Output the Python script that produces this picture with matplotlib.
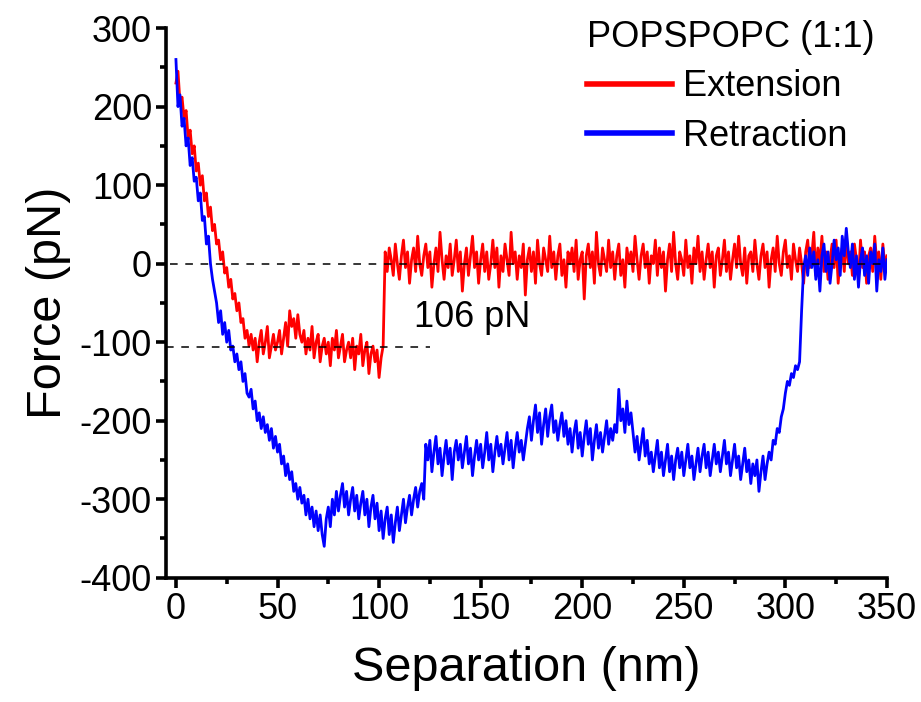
import numpy as np
import matplotlib
matplotlib.use('Agg')
import matplotlib.pyplot as plt
from matplotlib.ticker import MultipleLocator

plt.rcParams['font.family'] = ['Liberation Sans', 'DejaVu Sans']
plt.rcParams['axes.unicode_minus'] = False

# Force curve, one point per nm (0 .. 350 nm)
extension_force = [
    # 0 - 37: contact region
    230, 245, 205, 212, 185, 195, 160, 170, 140, 150,
    118, 128, 100, 112, 80, 90, 60, 72, 42, 50,
    25, 30, 5, 15, -12, -5, -30, -20, -45, -38,
    -60, -50, -75, -70, -95, -85, -105, -90,
    # 38 - 102: adhesion plateau
    -110, -95, -125, -100, -85, -115, -100, -80, -120, -105, -90, -110,
    -100, -85, -115, -95, -75, -105, -60, -80, -70, -95, -65, -90,
    -100, -85, -115, -95, -110, -80, -120, -100, -90, -125, -105, -95,
    -115, -100, -130, -95, -110, -85, -120, -105, -90, -125, -110, -100,
    -120, -95, -135, -105, -115, -90, -130, -110, -100, -140, -115, -105,
    -125, -110, -145, -120, -105,
    # 103 - 350: free baseline
    15, -10, 20, 5, -15, 25, 0, -20, 10, 30,
    -5, 15, -25, 5, 20, -10, 35, 0, -15, 10,
    25, -5, 15, -30, 0, 20, -10, 40, 5, -20,
    10, -5, 25, -15, 5, 30, -10, 15, -35, 0,
    20, -15, 10, 35, -5, 15, -25, 5, 25, -10,
    15, -20, 0, 30, -5, 20, -30, 10, -10, 25,
    5, -15, 40, 0, 15, -20, 10, -5, 25, -40,
    5, 20, -10, 15, -25, 30, 0, -15, 20, 5,
    -10, 35, -5, 15, -20, 10, 25, -15, 5, -30,
    15, 0, 20, -10, 30, -20, 5, 15, -45, 10,
    25, -5, 15, -25, 40, 0, -15, 20, 5, -10,
    30, -5, 15, -20, 10, 25, -15, 5, -30, 20,
    0, 15, -10, 35, 5, -20, 10, 25, -5, 15,
    -25, 10, 0, 30, -15, 20, -5, 15, -35, 5,
    25, -10, 40, 0, -20, 15, 5, -15, 30, -5,
    10, -25, 20, 0, 35, -10, 15, -20, 5, 25,
    -5, 15, -30, 10, 20, -15, 5, 30, -10, 15,
    -20, 5, 25, -5, 35, 0, -15, 20, -25, 10,
    15, -10, 30, 0, -20, 10, 25, -5, 15, -30,
    5, 20, -10, 35, 0, -15, 15, 30, -5, 10,
    -20, 25, 5, -10, 20, 0, -25, 15, 30, -5,
    10, 40, -15, 20, 0, 35, -10, 15, -20, 5,
    25, -5, 30, -25, 10, 20, -10, 35, 0, 15,
    -15, 25, 5, -20, 30, -5, 15, -25, 10, 20,
    -10, 35, 0, 15, -20, 25, -5, 10,
]

retraction_force = [
    # 0 - 37
    260, 200, 215, 175, 185, 150, 160, 125, 135, 105,
    110, 80, 90, 55, 60, 25, 35, 0, -20, -35,
    -50, -75, -60, -90, -75, -100, -85, -110, -105, -125,
    -115, -135, -125, -150, -140, -165, -170, -160,
    # 38 - 74
    -185, -175, -200, -190, -210, -195, -215, -205, -225, -210,
    -235, -220, -240, -230, -255, -245, -270, -255, -275, -265,
    -290, -280, -300, -285, -305, -295, -320, -300, -325, -310,
    -335, -315, -340, -320, -345, -360, -325,
    # 75 - 122
    -310, -335, -300, -320, -290, -315, -295, -280, -310, -290,
    -320, -300, -285, -315, -295, -325, -305, -290, -320, -300,
    -335, -310, -295, -325, -305, -340, -315, -350, -325, -310,
    -345, -320, -355, -330, -310, -340, -320, -300, -330, -310,
    -295, -320, -300, -285, -310, -290, -280, -300,
    # 123 - 173
    -230, -250, -225, -265, -240, -220, -255, -235, -270, -245,
    -225, -255, -235, -275, -240, -225, -250, -230, -260, -240,
    -220, -255, -235, -270, -245, -225, -250, -230, -260, -240,
    -215, -250, -230, -265, -240, -220, -245, -230, -255, -235,
    -215, -250, -225, -260, -235, -215, -240, -225, -250, -230,
    -210,
    # 174 - 192
    -195, -225, -200, -180, -215, -190, -230, -205, -185, -220,
    -195, -180, -215, -200, -225, -205, -190, -220, -200,
    # 193 - 217
    -230, -210, -240, -215, -200, -235, -215, -245, -220, -200,
    -230, -210, -250, -225, -205, -235, -215, -240, -220, -200,
    -230, -210, -225, -205, -215,
    # 218 - 233
    -160, -200, -185, -215, -175, -205, -190,
    -215, -240, -220, -250, -230, -210, -245, -225, -255,
    # 234 - 291
    -240, -265, -245, -225, -260, -240, -270, -250, -230, -265,
    -245, -275, -250, -235, -260, -240, -270, -250, -230, -260,
    -245, -275, -255, -235, -265, -245, -230, -260, -240, -270,
    -250, -230, -255, -240, -265, -245, -225, -255, -240, -270,
    -250, -230, -260, -245, -275, -255, -235, -265, -250, -280,
    -255, -270, -250, -290, -265, -245, -275, -255,
    # 292 - 309: detachment
    -240, -250, -225, -230, -210, -215, -195, -185, -165, -150,
    -155, -140, -145, -130, -135, -125, -60, -5,
    # 310 - 350
    10, -15, 20, -5, 15, -20, 5, -35, 10, 25,
    -10, 15, -25, 0, 30, 5, 20, -15, 35, 10,
    45, 15, -5, 25, -20, 10, -30, 5, 20, -15,
    10, -25, 15, 0, 25, -35, 5, -10, 20, -20,
    5,
]

sep_ext = np.arange(len(extension_force))
sep_ret = np.arange(len(retraction_force))

ref_levels = [0, -106]
ref_starts = [-3, -5]
ref_ends = [350, 125]
adhesion_label = '106 pN'

fig = plt.figure(figsize=(9.21, 7.02), dpi=100)
ax = fig.add_axes([0.180, 0.177, 0.783, 0.783])

ax.plot(sep_ext, extension_force, color='#ff0000', lw=2.0, label='Extension')
ax.plot(sep_ret, retraction_force, color='#0000ff', lw=2.0, label='Retraction')

for lvl, x0, x1 in zip(ref_levels, ref_starts, ref_ends):
    ax.hlines(lvl, x0, x1, colors='black', linestyles=(0, (5, 5)), lw=1.1, zorder=5)

ax.text(117, -68, adhesion_label, fontsize=26, va='center', ha='left')

ax.set_xlim(-5, 350)
ax.set_ylim(-400, 300)
ax.xaxis.set_major_locator(MultipleLocator(50))
ax.xaxis.set_minor_locator(MultipleLocator(25))
ax.yaxis.set_major_locator(MultipleLocator(100))
ax.yaxis.set_minor_locator(MultipleLocator(50))

for side in ['top', 'right']:
    ax.spines[side].set_visible(False)
for side in ['left', 'bottom']:
    ax.spines[side].set_linewidth(2.6)

ax.tick_params(which='major', direction='out', length=7, width=2.6, labelsize=26, pad=3)
ax.tick_params(which='minor', direction='out', length=4, width=2.6)

ax.set_xlabel('Separation (nm)', fontsize=35, labelpad=14)
ax.set_ylabel('Force (pN)', fontsize=35, labelpad=6)

leg = ax.legend(title='POPSPOPC (1:1)', loc='upper left', bbox_to_anchor=(587 / 921, 1 - 20 / 702),
                bbox_transform=fig.transFigure, frameon=False, fontsize=26, title_fontsize=26,
                handlelength=2.35, handletextpad=0.3, labelspacing=0.4, borderpad=0, borderaxespad=0,
                alignment='left')
for line in leg.get_lines():
    line.set_linewidth(4)

fig.savefig('out.png', dpi=100)
